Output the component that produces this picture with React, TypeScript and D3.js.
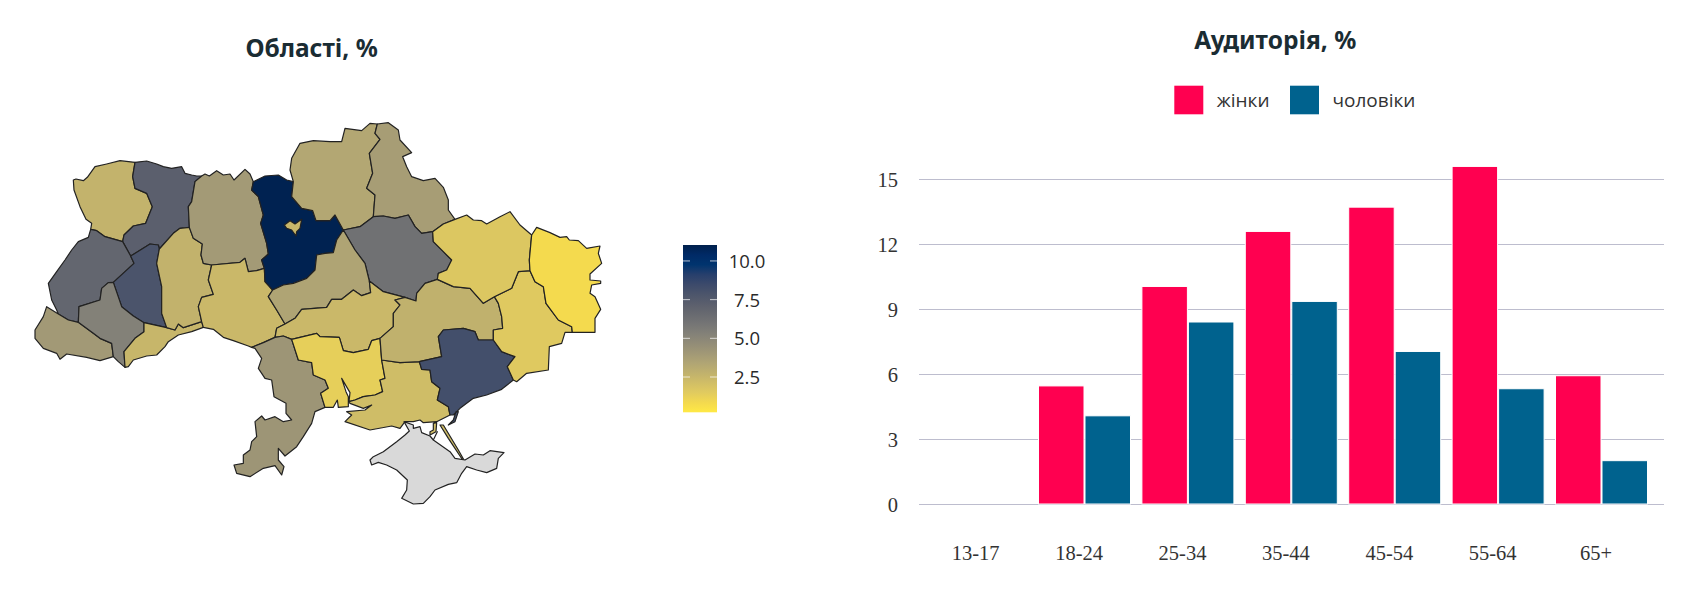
import * as d3 from "d3";
import { useEffect, useRef } from "react";

// bar chart data
const ageGroups = ["13-17", "18-24", "25-34", "35-44", "45-54", "55-64", "65+"];
const women = [0, 5.45, 10.04, 12.58, 13.7, 15.58, 5.92];
const men = [0, 4.07, 8.4, 9.35, 7.04, 5.32, 2.0];
const yTicks = [0, 3, 6, 9, 12, 15];
const seriesNames = ["жінки", "чоловіки"];
const seriesColors = ["#ff0050", "#00628e"];

// share of audience per region, null = no data
const regionValues: { [key: string]: number | null } = {
  volyn: 2.65, rivne: 7.2, lviv: 6.8, zakarpattia: 4.0, frankivsk: 5.3, ternopil: 7.9,
  chernivtsi: 2.5, khmelnytskyi: 2.7, zhytomyr: 3.95, vinnytsia: 2.4, kyivObl: 10.9, kyivCity: 2.5,
  chernihiv: 3.3, sumy: 3.8, poltava: 6.2, cherkasy: 3.45, kirovohrad: 2.4, kharkiv: 1.7,
  luhansk: 0.8, donetsk: 1.57, dnipro: 2.75, zaporizhzhia: 8.2, mykolaiv: 1.3, kherson: 2.2,
  odesa: 4.2, crimea: null,
};
const colorTicks = [2.5, 5, 7.5, 10];
// cividis, dark end first
const colorStops = [
  "rgb(0,32,76)", "rgb(0,42,102)", "rgb(0,52,110)", "rgb(39,63,108)", "rgb(60,74,107)", "rgb(76,85,107)",
  "rgb(91,95,109)", "rgb(104,106,112)", "rgb(117,117,117)", "rgb(131,129,120)", "rgb(146,140,119)",
  "rgb(161,152,118)", "rgb(176,165,116)", "rgb(192,177,109)", "rgb(209,190,102)", "rgb(225,203,95)",
  "rgb(243,217,79)", "rgb(255,233,69)",
];

const arcs: { [key: string]: string } = {
  volynRivne: "405,187 398,230 405,265 440,280 457,320 437,370 400,378 372,405 368,425",
  volynLviv: "368,425 315,410 290,392 272,388",
  volynOuter: "272,388 275,370 258,358 240,320 222,270 220,240 228,237 250,242 262,232 285,200 320,192 360,182 405,187",
  rivneOuter: "405,187 440,183 470,192 490,200 515,205 545,200 555,220 575,225 590,228 605,228",
  rivneZhyt: "605,228 585,245 575,305 565,320 568,382",
  rivneKhm: "568,382 540,385 520,400 478,447",
  rivneTern: "478,447 475,435 450,432 402,462 392,468",
  rivneLviv: "392,468 368,425",
  lvivOuter: "272,388 265,412 235,425 215,450 195,480 170,515 145,550 155,600 170,630 175,642",
  lvivZak: "175,642 205,660 235,667",
  lvivIF: "235,667 237,620 300,600 305,565 325,548 340,547",
  lvivTern: "340,547 402,490 392,468",
  ternKhm: "478,447 470,490 485,560 485,640 500,683",
  ternChern: "500,683 432,668",
  ternIF: "432,668 400,648 365,620 340,547",
  zakOuter: "175,642 140,620 130,650 105,690 105,715 130,745 170,760 180,778 200,762 260,772 300,782 340,770",
  zakIF: "235,667 280,700 300,715 335,730 340,770",
  ifOuter: "340,770 355,785 375,802",
  chernIF: "375,802 372,755 405,715 432,695 432,668",
  chernKhm: "500,683 525,690 535,672 550,683 605,665",
  chernVi: "605,665 610,682",
  chernOuter: "610,682 575,695 535,705 505,725 495,740 470,765 440,768 400,780 385,800 375,802",
  khmZhyt: "568,382 580,415 607,432 603,465 610,490 635,495",
  khmVi: "635,495 625,540 640,583 605,592 595,620 605,665",
  zhytOuter: "605,228 615,222 628,228 650,212 670,225 690,222 702,240 735,208 750,222 760,245",
  zhytKyiv: "760,245 755,270 775,290 790,345 782,370 800,430 805,462 785,480 793,505",
  zhytVi: "793,505 770,512 745,515 735,475 720,487 635,495",
  viKyiv: "793,505 795,545 818,570",
  viCk: "818,570 805,590 830,630 855,672",
  viKr: "855,672 830,685 825,712",
  viOd: "825,712 790,728 755,742",
  viOuter: "755,742 745,738 700,722 670,712 640,688 610,682",
  kyivTop: "760,245 795,228 835,225 860,240 880,245",
  cnKyiv: "880,245 875,290 905,325 938,332 948,362 990,362 1005,345 1030,390",
  kyivCk: "1030,390 1010,420 1000,458 975,460 950,465 945,510 920,535 880,550 850,555 818,570",
  cnOuter: "1132,72 1110,70 1085,92 1035,85 1025,125 990,125 940,122 900,130 875,175 870,210 880,245",
  cnS: "1132,72 1125,100 1140,118 1108,160 1118,220 1100,265 1125,285 1120,350",
  cnPl: "1120,350 1080,380 1030,390",
  sOuter: "1132,72 1165,68 1195,90 1200,120 1235,158 1208,170 1220,200 1235,230 1270,242 1305,235 1330,262 1345,300 1345,330 1365,358",
  sKh: "1365,358 1330,372 1298,395",
  sPl: "1298,395 1265,400 1245,380 1225,345 1185,355 1150,348 1120,350",
  plKh: "1298,395 1300,425 1330,455 1355,480 1340,510 1315,520 1312,538",
  plDp: "1312,538 1275,550 1250,580 1248,603 1215,592",
  plKr: "1215,592 1150,575 1108,543",
  plCk: "1108,543 1095,490 1065,450 1030,390",
  ckKr: "1108,543 1112,578 1085,587 1060,570 1025,598 995,598 980,622 905,628 885,655 855,672",
  krDp: "1215,592 1185,600 1200,615 1180,640 1180,680 1140,715",
  krMy: "1140,715 1115,722 1105,748 1060,758 1030,752 1018,712 960,710 950,700 875,718",
  krOd: "875,718 850,708 825,712",
  odMy: "875,718 895,780 935,788 940,825 975,840 985,865 962,880 975,922",
  odOuter: "975,922 945,935 935,970 910,1010 890,1040 855,1068 835,1045 835,1080 852,1100 845,1125 825,1097 790,1105 750,1130 710,1120 702,1095 730,1090 730,1065 750,1050 755,1025 770,1010 765,965 785,948 795,960 825,950 850,965 875,960 858,940 858,910 822,890 815,840 795,835 775,805 785,775 765,745 755,742",
  myDp: "1140,715 1145,780",
  myHe: "1145,780 1155,835 1140,840 1148,875 1125,885 1090,890 1065,900 1047,905",
  myOuter: "1047,905 1050,878 1025,835 1038,875 1045,890 1045,920 1015,922 1012,900 1000,922 975,922",
  heDp: "1145,780 1200,788 1258,785",
  heZp: "1258,785 1265,808 1290,810 1295,845 1320,865 1312,900 1345,920 1350,945",
  heOuter: "1350,945 1310,965 1270,968 1260,960 1240,965 1215,965 1200,985 1175,978 1110,990 1035,965 1055,945 1040,935 1095,930 1115,915 1090,925 1050,910 1047,905",
  dpKh: "1312,538 1360,560 1410,565 1450,610 1483,590",
  dpDo: "1483,590 1495,610 1505,650 1508,685 1480,690 1480,720",
  dpZp: "1480,720 1435,720 1425,695 1390,685 1330,690 1315,710 1325,770 1258,785",
  zpDo: "1480,720 1505,755 1545,770 1522,800 1540,840",
  zpOuter: "1540,840 1505,868 1460,885 1420,895 1380,925 1360,945 1350,945",
  kh2Do: "1483,590 1535,565 1555,515 1590,512",
  doLu: "1590,512 1605,545 1630,560 1638,610 1675,660 1715,680 1717,697",
  doOuter: "1717,697 1695,697 1685,730 1648,740 1645,810 1580,820 1550,845 1540,840",
  kh2Outer: "1365,358 1400,345 1420,360 1445,362 1460,372 1500,350 1530,335 1560,375 1595,405",
  kh2Lu: "1595,405 1588,480 1590,512",
  luOuter: "1595,405 1610,382 1650,398 1680,412 1700,410 1708,420 1735,422 1760,445 1800,438 1795,460 1805,490 1770,522 1770,540 1802,543 1802,550 1775,555 1770,580 1785,590 1802,628 1785,655 1785,697 1717,697",
  kyivCity: "853,375 870,362 885,372 905,358 900,385 890,395 888,408 875,390 860,385 853,375",
  crimea: "1110,1080 1120,1070 1150,1055 1190,1025 1215,1005 1228,993 1212,965 1240,975 1240,985 1260,980 1265,998 1290,1008 1300,1020 1312,995 1300,1020 1350,1055 1365,1075 1395,1080 1425,1062 1450,1065 1470,1052 1512,1058 1495,1075 1490,1105 1460,1118 1430,1110 1400,1100 1385,1120 1370,1148 1345,1153 1305,1170 1290,1190 1270,1210 1240,1212 1205,1195 1220,1170 1222,1140 1190,1110 1160,1095 1135,1087 1115,1095 1110,1080",
  arabatSpit: "1320,975 1330,975 1375,1050 1392,1080 1388,1080 1345,1015 1320,975",
  chongar: "1300,970 1310,968 1308,995 1290,1005 1290,995 1300,990 1300,970",
  berdyanskSpit: "1375,935 1365,965 1345,975 1360,960 1368,935 1375,935",
};

// which borders make up each region, "-" runs a border backwards
const regionRings: { [key: string]: string[][] } = {
  volyn: [["volynRivne", "volynLviv", "volynOuter"]],
  rivne: [["rivneOuter", "rivneZhyt", "rivneKhm", "rivneTern", "rivneLviv", "-volynRivne"]],
  lviv: [["lvivOuter", "lvivZak", "lvivIF", "lvivTern", "rivneLviv", "volynLviv"]],
  ternopil: [["-rivneTern", "ternKhm", "ternChern", "ternIF", "lvivTern"]],
  zakarpattia: [["zakOuter", "-zakIF", "-lvivZak"]],
  frankivsk: [["lvivIF", "-ternIF", "-chernIF", "-ifOuter", "-zakIF"]],
  chernivtsi: [["-ternChern", "chernKhm", "chernVi", "chernOuter", "chernIF"]],
  khmelnytskyi: [["-rivneKhm", "khmZhyt", "khmVi", "-chernKhm", "-ternKhm"]],
  zhytomyr: [["zhytOuter", "zhytKyiv", "zhytVi", "-khmZhyt", "-rivneZhyt"]],
  vinnytsia: [["viKyiv", "viCk", "viKr", "viOd", "viOuter", "-chernVi", "-khmVi", "-zhytVi"]],
  kyivObl: [["kyivTop", "cnKyiv", "kyivCk", "-viKyiv", "-zhytKyiv"]],
  chernihiv: [["cnOuter", "cnKyiv", "-cnPl", "-cnS"]],
  sumy: [["sOuter", "sKh", "sPl", "-cnS"]],
  poltava: [["plKh", "plDp", "plKr", "plCk", "-cnPl", "-sPl"]],
  cherkasy: [["-kyivCk", "-plCk", "ckKr", "-viCk"]],
  kirovohrad: [["-ckKr", "-plKr", "krDp", "krMy", "krOd", "-viKr"]],
  odesa: [["-krOd", "odMy", "odOuter", "-viOd"]],
  mykolaiv: [["-krMy", "myDp", "myHe", "myOuter", "-odMy"]],
  kherson: [["-myHe", "heDp", "heZp", "heOuter"], ["arabatSpit"], ["chongar"]],
  dnipro: [["-plDp", "dpKh", "dpDo", "dpZp", "-heDp", "-myDp", "-krDp"]],
  zaporizhzhia: [["-dpZp", "zpDo", "zpOuter", "-heZp"], ["berdyanskSpit"]],
  donetsk: [["-dpDo", "kh2Do", "doLu", "doOuter", "-zpDo"]],
  kharkiv: [["-sKh", "kh2Outer", "kh2Lu", "-kh2Do", "-dpKh", "-plKh"]],
  luhansk: [["-kh2Lu", "luOuter", "-doLu"]],
  crimea: [["crimea"]],
  kyivCity: [["kyivCity"]],
};

const parseArc = (name: string) => {
  const pts = arcs[name.replace("-", "")].split(" ").map((p) => p.split(",").map(Number));
  return name.startsWith("-") ? pts.reverse() : pts;
};

const toFeature = (id: string) => ({
  type: "Feature",
  id,
  properties: {},
  geometry: {
    type: "MultiPolygon",
    coordinates: regionRings[id].map((ring) => {
      const pts = ring.flatMap((a, i) => (i === 0 ? parseArc(a) : parseArc(a).slice(1)));
      return [pts];
    }),
  },
});

const titleFont = "'Noto Sans', sans-serif";

export default function App() {
  const svgRef = useRef<SVGSVGElement | null>(null);

  useEffect(() => {
    if (!svgRef.current) return;
    const svg = d3.select(svgRef.current);
    svg.selectAll("*").remove();

    const addTitle = (text: string, x: number, y: number) =>
      svg.append("text").attr("x", x).attr("y", y).attr("text-anchor", "middle")
        .style("font-family", titleFont).style("font-size", "24.5px").style("font-weight", 700)
        .attr("fill", "#1a2c33").text(text);

    // ---- map ----
    addTitle("Області, %", 311.6, 57.4);

    const colorT = d3.scaleLinear().domain([11.03, 0.22]).range([0, 1]);
    const ramp = d3.scaleLinear<string>()
      .domain(colorStops.map((_, i) => i / (colorStops.length - 1)))
      .range(colorStops)
      .interpolate(d3.interpolateRgb);
    const color = (v: number) => ramp(colorT(v));
    const path = d3.geoPath(d3.geoIdentity().scale(1 / 3).translate([0, 100]) as any);

    // kyiv city is last so it sits on top of the oblast
    svg.append("g").selectAll("path")
      .data(Object.keys(regionRings).map(toFeature))
      .enter()
      .append("path")
      .attr("d", (d) => path(d as any))
      .attr("fill", (d) => {
        const v = regionValues[d.id];
        return v == null ? "#d9d9d9" : color(v);
      })
      .attr("stroke", "#222")
      .attr("stroke-width", 1.2)
      .attr("stroke-linejoin", "round");

    // ---- colour bar ----
    const barX = 683;
    const barW = 34;
    const barY = d3.scaleLinear().domain([0.22, 11.03]).range([412.3, 245]);
    const grad = svg.append("defs").append("linearGradient").attr("id", "cbar")
      .attr("x1", 0).attr("x2", 0).attr("y1", 0).attr("y2", 1);
    colorStops.forEach((c, i) => {
      grad.append("stop").attr("offset", i / (colorStops.length - 1)).attr("stop-color", c);
    });
    svg.append("rect").attr("x", barX).attr("y", barY(11.03)).attr("width", barW)
      .attr("height", barY(0.22) - barY(11.03)).attr("fill", "url(#cbar)");
    const cb = svg.append("g").selectAll("g").data(colorTicks).enter().append("g");
    cb.append("path")
      .attr("d", (d) => `M${barX},${barY(d)}h7M${barX + barW},${barY(d)}h-7`)
      .attr("stroke", "#fff").attr("stroke-opacity", 0.7).attr("stroke-width", 1);
    cb.append("text").attr("x", 747).attr("y", (d) => barY(d) + 7).attr("text-anchor", "middle")
      .style("font-family", "'Open Sans', sans-serif").style("font-size", "18.5px")
      .attr("fill", "#2a2a2a").text((d) => d.toFixed(1));

    // ---- bars ----
    addTitle("Аудиторія, %", 1275.3, 49.2);

    const x = d3.scaleBand().domain(ageGroups).range([924, 1647.8]);
    const inner = d3.scaleBand().domain(seriesNames).range([11.1, 103.1]).paddingInner(0.0215);
    const y = d3.scaleLinear().domain([0, 15]).range([504, 179]);
    const gridLeft = 919;
    const gridRight = 1664;

    const yAxis = svg.append("g")
      .attr("transform", `translate(${gridLeft},0)`)
      .call(d3.axisLeft(y).tickValues(yTicks).tickSize(-(gridRight - gridLeft)).tickPadding(21));
    yAxis.select(".domain").remove();
    yAxis.selectAll("line").attr("stroke", "#bdbdce");
    yAxis.selectAll("text")
      .attr("dy", 7.5)
      .style("font-family", "'Liberation Serif', serif").style("font-size", "20.5px").attr("fill", "#333");

    const xAxis = svg.append("g")
      .attr("transform", "translate(0,504)")
      .call(d3.axisBottom(x).tickSize(0).tickPadding(40));
    xAxis.select(".domain").remove();
    xAxis.selectAll("text")
      .attr("dy", 15.5)
      .style("font-family", "'Liberation Serif', serif").style("font-size", "20.5px").attr("fill", "#333");

    [women, men].forEach((values, s) => {
      svg.append("g").selectAll("rect")
        .data(ageGroups.map((g, i) => ({ g, v: values[i] })).filter((d) => d.v > 0))
        .enter()
        .append("rect")
        .attr("x", (d) => x(d.g)! + inner(seriesNames[s])!)
        .attr("y", (d) => y(d.v))
        .attr("width", inner.bandwidth())
        .attr("height", (d) => y(0) - y(d.v))
        .attr("fill", seriesColors[s])
        .attr("stroke", "#fff")
        .attr("stroke-width", 1);
    });

    // legend
    const legendX = [1174.3, 1290];
    const lg = svg.append("g").selectAll("g").data(seriesNames).enter().append("g");
    lg.append("rect").attr("x", (_, i) => legendX[i]).attr("y", 85.7).attr("width", 29).attr("height", 28.6)
      .attr("fill", (_, i) => seriesColors[i]);
    lg.append("text").attr("x", (_, i) => legendX[i] + 42.5).attr("y", 107.3)
      .style("font-family", "'Open Sans', sans-serif").style("font-size", "19px")
      .attr("fill", "#333").text((d) => d);
  }, []);

  return (
    <svg
      ref={svgRef}
      width={1699}
      height={598}
      style={{ position: "absolute", left: 0, top: 0, background: "#fff" }}
    />
  );
}
